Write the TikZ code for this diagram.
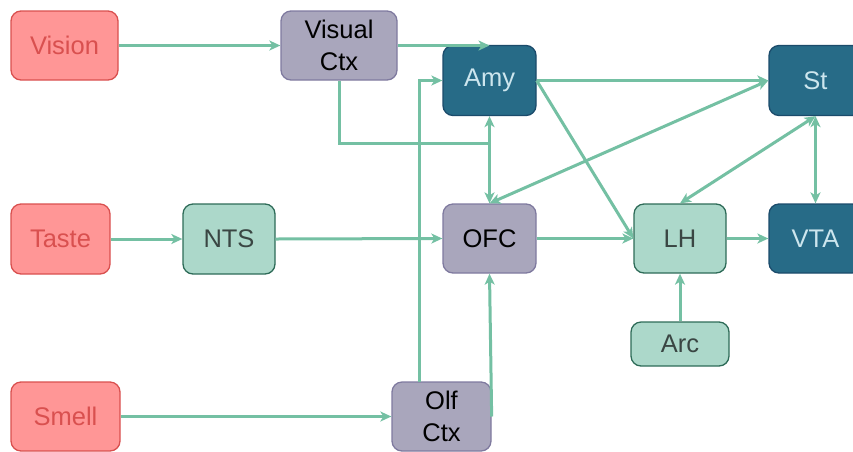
\documentclass[tikz,border=0pt]{standalone}
\usepackage{fontspec}
\setmainfont{Liberation Sans}
\usetikzlibrary{arrows.meta}
\definecolor{senfill}{HTML}{FF9696}
\definecolor{sendraw}{HTML}{D9504F}
\definecolor{sentext}{HTML}{D9504F}
\definecolor{purfill}{HTML}{A9A6BC}
\definecolor{purdraw}{HTML}{7F7A9F}
\definecolor{mintfill}{HTML}{ACD8CA}
\definecolor{mintdraw}{HTML}{2E6B58}
\definecolor{minttext}{HTML}{3A4643}
\definecolor{tealfill}{HTML}{276B87}
\definecolor{tealdraw}{HTML}{1B4B6B}
\definecolor{tealtext}{HTML}{CDE6EE}
\definecolor{edge}{HTML}{74C0A3}
\tikzset{
  box/.style={rectangle, rounded corners=10pt, line width=1.3pt, align=center,
    inner sep=0pt, font=\fontsize{25.5}{32.5}\selectfont},
  sensory/.style={box, fill=senfill, draw=sendraw, text=sentext},
  cortex/.style={box, fill=purfill, draw=purdraw, text=black},
  mint/.style={box, fill=mintfill, draw=mintdraw, text=minttext},
  teal/.style={box, fill=tealfill, draw=tealdraw, text=tealtext},
  conn/.style={draw=edge, line width=3pt},
  tip/.tip={Stealth[length=11pt,width=10pt,inset=3pt]},
  arr/.style={conn, -tip},
  darr/.style={conn, tip-tip},
}
\begin{document}
\begin{tikzpicture}[x=1pt,y=-1pt]
\useasboundingbox (0,0) rectangle (853,451);
\node[sensory, minimum width=107pt, minimum height=69pt] (vision) at (64.5,45.5) {Vision};
\node[cortex, minimum width=116pt, minimum height=69pt] (vctx) at (339,45.5) {Visual\\Ctx};
\node[teal, minimum width=93pt, minimum height=70pt] (amy) at (489.5,80.5) {Amy};
\node[teal, minimum width=93pt, minimum height=70pt] (st) at (815.5,80.5) {St};
\node[sensory, minimum width=99pt, minimum height=70pt] (taste) at (60.5,239) {Taste};
\node[mint, minimum width=92pt, minimum height=70pt] (nts) at (229,239) {NTS};
\node[cortex, minimum width=93pt, minimum height=69pt] (ofc) at (489.5,238.5) {OFC};
\node[mint, minimum width=92pt, minimum height=69pt] (lh) at (680,238.5) {LH};
\node[teal, minimum width=93pt, minimum height=69pt] (vta) at (815.5,238.5) {VTA};
\node[mint, minimum width=98pt, minimum height=44pt] (arc) at (680,344) {Arc};
\node[sensory, minimum width=109pt, minimum height=69pt] (smell) at (65.5,416.5) {Smell};
\node[cortex, minimum width=99pt, minimum height=69pt] (olf) at (441.5,416.5) {Olf\\Ctx};
\coordinate (j) at (489.5,143);
\coordinate (olfup) at (419,382);

\draw[arr] (vision.east) -- (vctx.west);
\draw[arr] (vctx.east) -- (vctx.east -| amy.north);
\draw[conn] (vctx.south) |- (j);
\draw[darr] (amy.south) -- (ofc.north);
\draw[arr] (olfup) |- (amy.west);
\draw[arr] (olf.east) -- (ofc.south);
\draw[arr] (smell.east) -- (olf.west);
\draw[arr] (taste.east) -- (nts.west);
\draw[arr] (nts.east) -- (ofc.west);
\draw[arr] (ofc.east) -- (lh.west);
\draw[arr] (lh.east) -- (vta.west);
\draw[arr] (arc.north) -- (lh.south);
\draw[arr] (amy.east) -- (st.west);
\draw[arr] (amy.east) -- (lh.west);
\draw[darr] (ofc.north) -- (st.west);
\draw[darr] (st.south) -- (lh.north);
\draw[darr] (st.south) -- (vta.north);
\end{tikzpicture}
\end{document}
